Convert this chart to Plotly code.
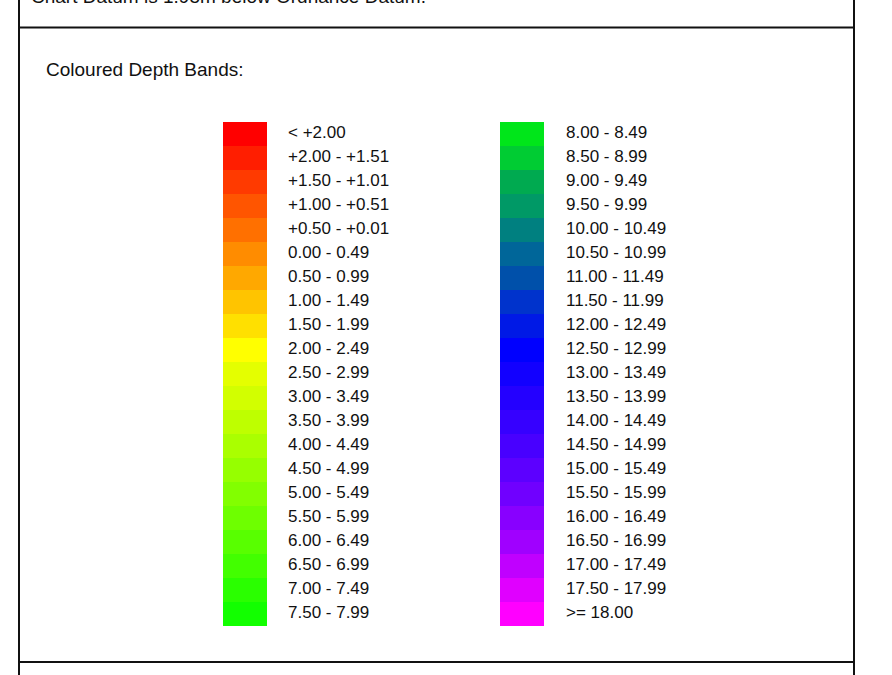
import plotly.graph_objects as go

# ---- data ----
left_labels = ["< +2.00", "+2.00 - +1.51", "+1.50 - +1.01", "+1.00 - +0.51", "+0.50 - +0.01",
               "0.00 - 0.49", "0.50 - 0.99", "1.00 - 1.49", "1.50 - 1.99", "2.00 - 2.49",
               "2.50 - 2.99", "3.00 - 3.49", "3.50 - 3.99", "4.00 - 4.49", "4.50 - 4.99",
               "5.00 - 5.49", "5.50 - 5.99", "6.00 - 6.49", "6.50 - 6.99", "7.00 - 7.49",
               "7.50 - 7.99"]
left_colors = ["#FF0000", "#FF1E00", "#FF3A00", "#FF5500", "#FF7000",
               "#FF8C00", "#FFA800", "#FFC400", "#FFE000", "#FFFF00",
               "#E4FF00", "#D2FF00", "#BEFF00", "#AAFF00", "#96FF00",
               "#82FF00", "#6EFF00", "#58FF00", "#42FF00", "#2AFF00",
               "#12FF00"]
right_labels = ["8.00 - 8.49", "8.50 - 8.99", "9.00 - 9.49", "9.50 - 9.99", "10.00 - 10.49",
                "10.50 - 10.99", "11.00 - 11.49", "11.50 - 11.99", "12.00 - 12.49", "12.50 - 12.99",
                "13.00 - 13.49", "13.50 - 13.99", "14.00 - 14.49", "14.50 - 14.99", "15.00 - 15.49",
                "15.50 - 15.99", "16.00 - 16.49", "16.50 - 16.99", "17.00 - 17.49", "17.50 - 17.99",
                ">= 18.00"]
right_colors = ["#00E61A", "#00CC33", "#00AA50", "#009966", "#008080",
                "#006699", "#0050AA", "#0033CC", "#0019E6", "#0000FF",
                "#1200FF", "#2400FF", "#3600FF", "#4800FF", "#5C00FF",
                "#7000FF", "#8800FF", "#A000FF", "#C000FF", "#E000FF",
                "#FF00FF"]
title_text = "Chart Datum is 1.95m below Ordnance Datum."
header_text = "Coloured Depth Bands:"

W, H = 892, 675
ROW_TOP_PX, ROW_H_PX = 122, 24   # layout of the band rows
LEFT_BAR_X, RIGHT_BAR_X, BAR_W = 245, 522, 44
LEFT_TXT_X, RIGHT_TXT_X = 288, 566

FONT = "Arial, 'Liberation Sans', sans-serif"

fig = go.Figure()

for xpos, cols in ((LEFT_BAR_X, left_colors), (RIGHT_BAR_X, right_colors)):
    fig.add_trace(go.Bar(
        x=[xpos] * len(cols), y=[1] * len(cols), base=list(range(len(cols))),
        width=BAR_W, marker=dict(color=cols, line=dict(width=0)),
        hoverinfo="skip", showlegend=False))

for xpos, labs in ((LEFT_TXT_X, left_labels), (RIGHT_TXT_X, right_labels)):
    fig.add_trace(go.Scatter(
        x=[xpos] * len(labs), y=[i + 0.5 for i in range(len(labs))],
        mode="text", text=labs, textposition="middle right",
        textfont=dict(family=FONT, size=17, color="#111111"),
        hoverinfo="skip", showlegend=False))

y_top = -ROW_TOP_PX / ROW_H_PX
y_bot = (H - ROW_TOP_PX) / ROW_H_PX

line = dict(color="#111111", width=2)
shapes = [
    dict(type="line", xref="paper", yref="paper", x0=19 / W, x1=19 / W, y0=0, y1=1, line=line),
    dict(type="line", xref="paper", yref="paper", x0=854 / W, x1=854 / W, y0=0, y1=1, line=line),
    dict(type="line", xref="paper", yref="paper", x0=19 / W, x1=854 / W,
         y0=1 - 27.5 / H, y1=1 - 27.5 / H, line=line),
    dict(type="line", xref="paper", yref="paper", x0=19 / W, x1=854 / W,
         y0=1 - 662 / H, y1=1 - 662 / H, line=line),
]

annotations = [
    dict(text=title_text, xref="paper", yref="paper", x=29 / W, y=1 - 9 / H,
         xanchor="left", yanchor="bottom", showarrow=False,
         font=dict(family=FONT, size=19, color="#111111")),
    dict(text=header_text, xref="paper", yref="paper", x=44 / W, y=1 - 69 / H,
         xanchor="left", yanchor="middle", showarrow=False,
         font=dict(family=FONT, size=19, color="#111111")),
]

fig.update_layout(
    width=W, height=H, margin=dict(l=0, r=0, t=0, b=0),
    paper_bgcolor="white", plot_bgcolor="white",
    barmode="overlay", bargap=0,
    xaxis=dict(range=[0, W], visible=False, fixedrange=True),
    yaxis=dict(range=[y_bot, y_top], visible=False, fixedrange=True),
    shapes=shapes, annotations=annotations,
)

fig.write_html(
    "out.html",
    config={"displayModeBar": False},
    post_script="document.body.style.margin='0';document.body.style.overflow='hidden';",
)
